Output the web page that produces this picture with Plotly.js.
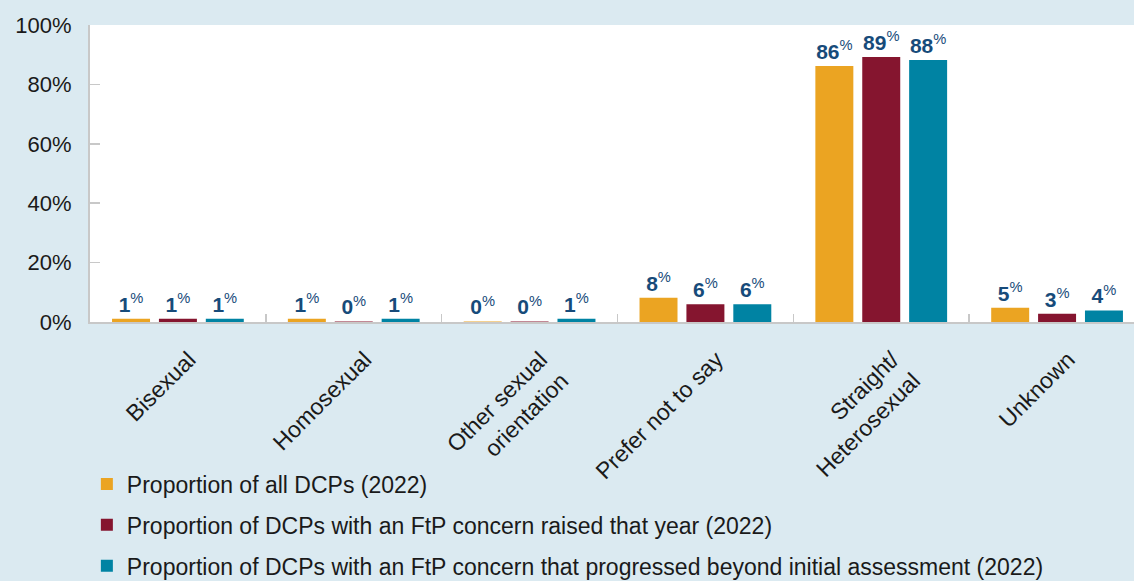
<!DOCTYPE html>
<html>
<head>
<meta charset="utf-8">
<script src="https://cdn.plot.ly/plotly-3.0.1.min.js"></script>
<style>
html,body{margin:0;padding:0;background:#dbeaf1;}
#chart{width:1134px;height:581px;}
</style>
</head>
<body>
<div id="chart"></div>
<script>
var categories = ["Bisexual", "Homosexual", "Other sexual<br>orientation", "Prefer not to say", "Straight/<br>Heterosexual", "Unknown"];
var seriesNames = [
  "Proportion of all DCPs (2022)",
  "Proportion of DCPs with an FtP concern raised that year (2022)",
  "Proportion of DCPs with an FtP concern that progressed beyond initial assessment (2022)"
];
var allDCPs = [1.1, 1.1, 0.2, 8.2, 86.2, 4.8];
var raisedDCPs = [1.1, 0.2, 0.2, 6.0, 89.2, 2.8];
var progressedDCPs = [1.1, 1.1, 1.1, 6.0, 88.2, 3.9];
var allLabels = ["1", "1", "0", "8", "86", "5"];
var raisedLabels = ["1", "0", "0", "6", "89", "3"];
var progressedLabels = ["1", "1", "1", "6", "88", "4"];
var yTicks = [0, 20, 40, 60, 80, 100];
var yTickText = yTicks.map(function(t) { return t + "%"; });
var colors = ["#eba422", "#85152f", "#0083a3"];

var values = [allDCPs, raisedDCPs, progressedDCPs];
var labels = [allLabels, raisedLabels, progressedLabels];

var traces = values.map(function(v, i) {
  return {
    type: "bar",
    name: seriesNames[i],
    x: categories,
    y: v,
    text: labels[i],
    texttemplate: "<b>%{text}</b><sup>%</sup>",
    textposition: "outside",
    constraintext: "none",
    cliponaxis: false,
    textfont: {family: "Liberation Sans, Arial, sans-serif", size: 21, color: "#174b7a"},
    marker: {color: colors[i]},
    legendgroup: "g" + i,
    hoverinfo: "skip"
  };
});

var layout = {
  width: 1134,
  height: 581,
  paper_bgcolor: "#dbeaf1",
  plot_bgcolor: "#ffffff",
  margin: {l: 90, r: 0, t: 25, b: 259, pad: 0, autoexpand: false},
  barmode: "group",
  bargap: 0.2,
  bargroupgap: 0.19,
  font: {family: "Liberation Sans, Arial, sans-serif", color: "#1a1a1a"},
  xaxis: {
    type: "category",
    range: [-0.5, 5.4375],
    tickangle: -45,
    tickfont: {size: 23, color: "#1a1a1a"},
    ticks: "inside",
    tickson: "boundaries",
    ticklen: 8,
    tickcolor: "#c8c8c8",
    tickwidth: 1.5,
    ticklabelshift: 11,
    ticklabelstandoff: 13,
    showline: true,
    linecolor: "#c8c8c8",
    linewidth: 2,
    showgrid: false,
    zeroline: false,
    automargin: false,
    fixedrange: true
  },
  yaxis: {
    range: [0, 100],
    tickmode: "array",
    tickvals: yTicks,
    ticktext: yTickText,
    tickfont: {size: 22, color: "#1a1a1a"},
    ticks: "inside",
    ticklen: 10,
    tickcolor: "#c8c8c8",
    tickwidth: 1.5,
    ticklabelstandoff: 12,
    showline: true,
    linecolor: "#c8c8c8",
    linewidth: 2,
    showgrid: false,
    zeroline: false,
    automargin: false,
    fixedrange: true
  },
  showlegend: true,
  legend: {
    orientation: "v",
    x: -0.003,
    xanchor: "left",
    y: -0.473,
    yanchor: "top",
    bgcolor: "rgba(0,0,0,0)",
    font: {size: 23, color: "#1a1a1a"},
    traceorder: "grouped",
    tracegroupgap: 8
  }
};

Plotly.newPlot("chart", traces, layout, {displayModeBar: false, staticPlot: true});
</script>
</body>
</html>
